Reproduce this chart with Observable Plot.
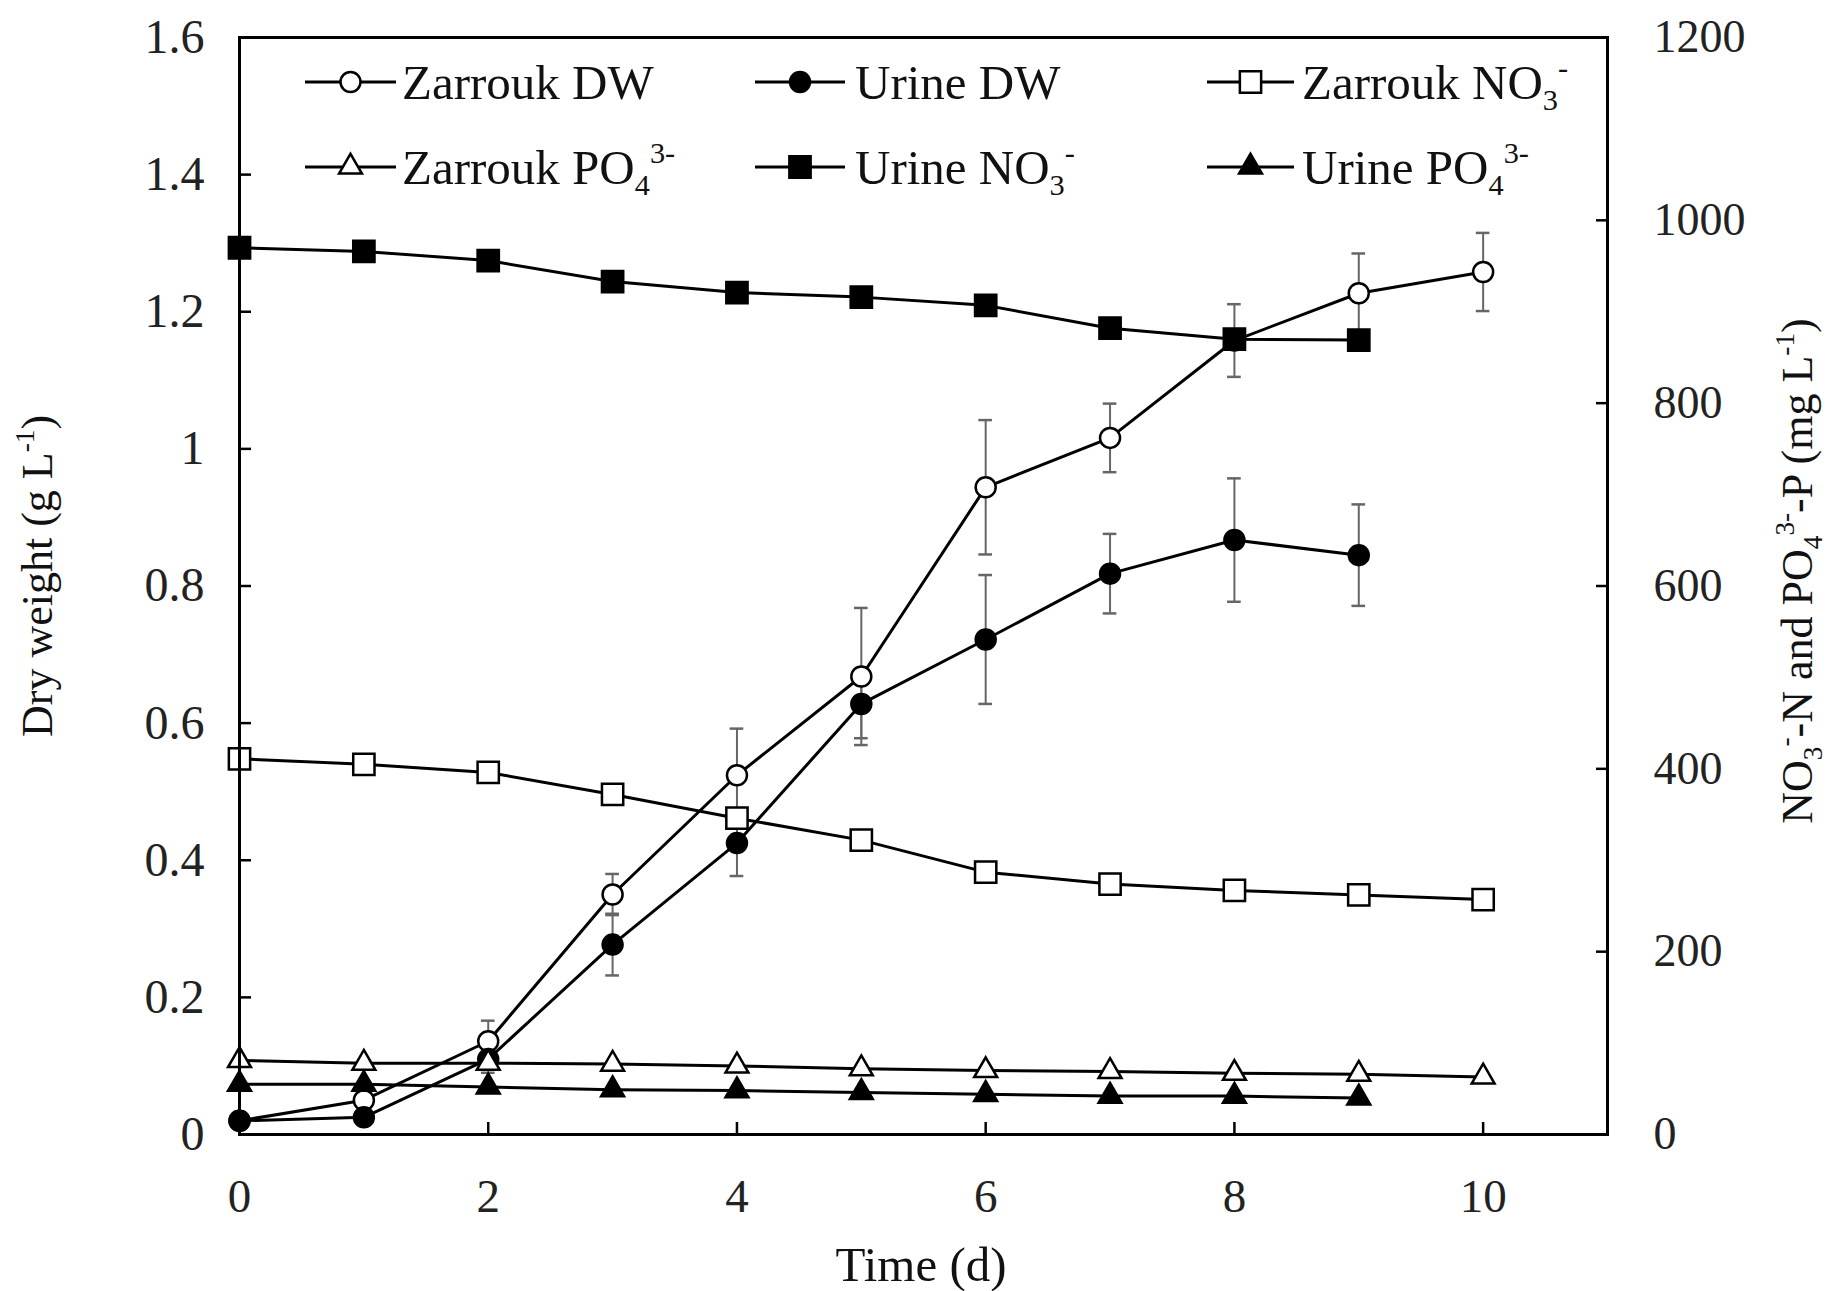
<!DOCTYPE html>
<html><head><meta charset="utf-8">
<script src="https://cdn.jsdelivr.net/npm/d3@7"></script>
<script src="https://cdn.jsdelivr.net/npm/@observablehq/plot@0.6"></script>
<style>
body{margin:0;background:#fff;}
#wrap{position:relative;width:1828px;height:1291px;}
</style></head><body><div id="wrap"></div>
<script>
const days = [0,1,2,3,4,5,6,7,8,9,10];
const zarroukDW    = [0.02,0.05,0.136,0.35,0.524,0.668,0.944,1.016,1.158,1.227,1.258];
const zarroukDWErr = [0.01,0.01,0.03,0.03,0.068,0.10,0.098,0.05,0.053,0.058,0.057];
const urineDW      = [0.02,0.025,0.11,0.277,0.425,0.628,0.722,0.818,0.867,0.845];
const urineDWErr   = [0.01,0.01,0.02,0.045,0.048,0.05,0.094,0.058,0.09,0.074];
const zarroukNO3   = [411,405,396,372,346,322,287,274,267,262,257];
const urineNO3     = [970,966,956,933,921,916,907,882,870,869];
const zarroukPO4   = [81,78,78,77,75,72,70,69,67,66,63];
const urinePO4     = [55,55,52,49,48,46,44,42,42,40];
const leftTicks  = [0,0.2,0.4,0.6,0.8,1,1.2,1.4,1.6];
const rightTicks = [0,200,400,600,800,1000,1200];
const xTicks     = [0,2,4,6,8,10];

const S = 1.6/1200; // right-axis value -> left-axis units
const FONT = "Liberation Serif, Times New Roman, serif";

const series = [
  {name:"Zarrouk DW", values:zarroukDW, err:zarroukDWErr, right:false, symbol:"circle",   fill:"white", r:10},
  {name:"Urine DW",   values:urineDW,   err:urineDWErr,   right:false, symbol:"circle",   fill:"black", r:10},
  {name:"Zarrouk NO3",values:zarroukNO3,err:null,         right:true,  symbol:"square",   fill:"white", r:12},
  {name:"Zarrouk PO4",values:zarroukPO4,err:null,         right:true,  symbol:"triangle", fill:"white", r:8.5},
  {name:"Urine NO3",  values:urineNO3,  err:null,         right:true,  symbol:"square",   fill:"black", r:12},
  {name:"Urine PO4",  values:urinePO4,  err:null,         right:true,  symbol:"triangle", fill:"black", r:8.5}
];
const rowsOf = s => s.values.map((v,i)=>({day:days[i], y: s.right ? v*S : v, e: s.err ? s.err[i] : 0}));

const marks = [];
// error bars
for (const s of series.filter(s=>s.err)) {
  const rows = rowsOf(s);
  marks.push(Plot.ruleX(rows, {x:"day", y1:d=>d.y-d.e, y2:d=>d.y+d.e, stroke:"#666", strokeWidth:2}));
  marks.push(Plot.ruleY(rows, {y:d=>d.y+d.e, x1:d=>d.day-0.055, x2:d=>d.day+0.055, stroke:"#666", strokeWidth:2.5}));
  marks.push(Plot.ruleY(rows, {y:d=>d.y-d.e, x1:d=>d.day-0.055, x2:d=>d.day+0.055, stroke:"#666", strokeWidth:2.5}));
}
for (const s of series) {
  marks.push(Plot.line(rowsOf(s), {x:"day", y:"y", stroke:"black", strokeWidth:3}));
}
for (const s of series) {
  marks.push(Plot.dot(rowsOf(s), {x:"day", y:"y", symbol:s.symbol, r:s.r, fill:s.fill, stroke:"black", strokeWidth:2.5}));
}
marks.push(Plot.frame({stroke:"black", strokeWidth:3}));
marks.push(Plot.axisY({anchor:"left", ticks:leftTicks, tickSize:-12, tickPadding:47, strokeWidth:2.5,
  tickFormat:d=>String(+d.toFixed(1)), fontSize:48, fill:"#222", label:null}));
marks.push(Plot.axisY({anchor:"right", ticks:rightTicks.map(v=>v*S), tickSize:-12, tickPadding:58, strokeWidth:2.5,
  tickFormat:d=>String(Math.round(d/S)), fontSize:46, fill:"#222", label:null}));
marks.push(Plot.axisX({anchor:"bottom", ticks:xTicks, tickSize:-12, tickPadding:56, strokeWidth:2.5,
  tickFormat:d=>String(d), fontSize:47, fill:"#222", label:null}));

const chart = Plot.plot({
  width:1828, height:1291,
  marginLeft:239, marginRight:221, marginTop:37, marginBottom:157,
  x:{domain:[0,11]},
  y:{domain:[0,1.6]},
  style:{fontFamily:FONT, background:"white", color:"black"},
  marks
});
document.getElementById("wrap").appendChild(chart);

// rich text helper
function rich(sel, parts, F) {
  let cur = 0;
  for (const [t, kind] of parts) {
    const off = kind==="sup" ? -0.42*F : kind==="sub" ? 0.22*F : 0;
    const size = kind==="n" ? F : 0.62*F;
    sel.append("tspan").attr("dy", off-cur).attr("font-size", size).text(t);
    cur = off;
  }
}
const svg = d3.select(chart);
const g = svg.append("g").attr("font-family", FONT).attr("fill", "#111");

// axis titles
const t1 = g.append("text").attr("transform","translate(52,576) rotate(-90)").attr("text-anchor","middle").attr("font-size",44);
rich(t1, [["Dry weight (g L","n"],["-1","sup"],[")","n"]], 44);
const t2 = g.append("text").attr("transform","translate(1812,571) rotate(-90)").attr("text-anchor","middle").attr("font-size",44);
rich(t2, [["NO","n"],["3","sub"],["-","sup"],["-N and PO","n"],["4","sub"],["3-","sup"],["-P (mg L","n"],["-1","sup"],[")","n"]], 44);
g.append("text").attr("x",921).attr("y",1281).attr("text-anchor","middle").attr("font-size",49).text("Time (d)");

// legend
const legendItems = [
  {s:0, col:0, row:0, label:[["Zarrouk DW","n"]]},
  {s:1, col:1, row:0, label:[["Urine DW","n"]]},
  {s:2, col:2, row:0, label:[["Zarrouk NO","n"],["3","sub"],["-","sup"]]},
  {s:3, col:0, row:1, label:[["Zarrouk PO","n"],["4","sub"],["3-","sup"]]},
  {s:4, col:1, row:1, label:[["Urine NO","n"],["3","sub"],["-","sup"]]},
  {s:5, col:2, row:1, label:[["Urine PO","n"],["4","sub"],["3-","sup"]]}
];
const colX = [[305,396,402],[755,845,855],[1207,1294,1302]];
const rowY = [82,167];
const symMap = {circle:d3.symbolCircle, square:d3.symbolSquare, triangle:d3.symbolTriangle};
const lg = svg.append("g").attr("font-family", FONT);
for (const it of legendItems) {
  const s = series[it.s];
  const [x1,x2,tx] = colX[it.col];
  const y = rowY[it.row];
  lg.append("line").attr("x1",x1).attr("x2",x2).attr("y1",y).attr("y2",y).attr("stroke","black").attr("stroke-width",3);
  lg.append("path").attr("transform",`translate(${(x1+x2)/2},${y})`)
    .attr("d", d3.symbol(symMap[s.symbol], Math.PI*s.r*s.r)())
    .attr("fill", s.fill).attr("stroke","black").attr("stroke-width",2.5);
  const t = lg.append("text").attr("x",tx).attr("y",y+17).attr("text-anchor","start").attr("font-size",49).attr("fill","#111");
  rich(t, it.label, 49);
}
</script></body></html>
